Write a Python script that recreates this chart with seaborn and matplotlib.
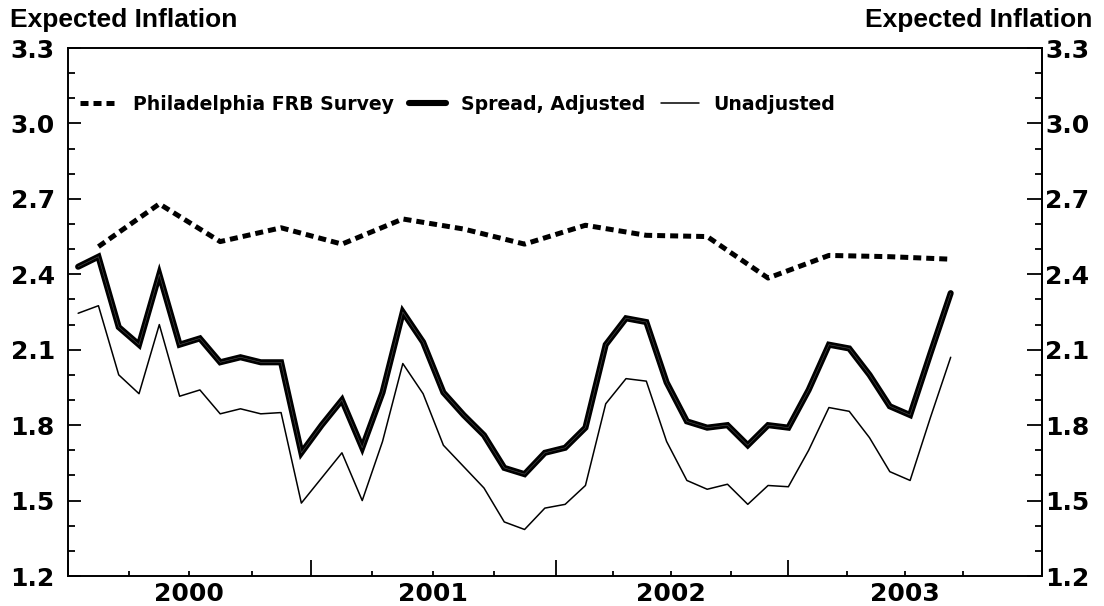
import numpy as np
import pandas as pd
import matplotlib
matplotlib.use("Agg")
import matplotlib.pyplot as plt
import seaborn as sns
from matplotlib.ticker import FixedLocator

# ---------------- data (monthly index: 0 = Jan 2000) ----------------
month_index = list(range(44))  # Jan 2000 .. Aug 2003

spread_adjusted = [2.43, 2.47, 2.19, 2.12, 2.40, 2.12, 2.145, 2.05, 2.07, 2.05,
                   2.05, 1.69, 1.80, 1.90, 1.71, 1.93, 2.25, 2.13, 1.93, 1.84,
                   1.76, 1.63, 1.605, 1.69, 1.71, 1.79, 2.12, 2.225, 2.21, 1.97,
                   1.815, 1.79, 1.80, 1.72, 1.80, 1.79, 1.94, 2.12, 2.105, 2.00,
                   1.875, 1.84, 2.085, 2.325]

unadjusted = [2.245, 2.275, 2.00, 1.925, 2.20, 1.915, 1.94, 1.845, 1.865, 1.845,
              1.85, 1.49, 1.59, 1.69, 1.50, 1.735, 2.045, 1.925, 1.72, 1.635,
              1.55, 1.415, 1.385, 1.47, 1.485, 1.56, 1.885, 1.985, 1.975, 1.735,
              1.58, 1.545, 1.565, 1.485, 1.56, 1.555, 1.70, 1.87, 1.855, 1.75,
              1.615, 1.58, 1.83, 2.07]

survey_index = [1, 4, 7, 10, 13, 16, 19, 22, 25, 28, 31, 34, 37, 40, 43]
survey = [2.51, 2.68, 2.53, 2.585, 2.52, 2.62, 2.58, 2.52, 2.595, 2.555,
          2.55, 2.385, 2.475, 2.47, 2.46]

y_major = [1.2, 1.5, 1.8, 2.1, 2.4, 2.7, 3.0, 3.3]
y_labels = ["1.2", "1.5", "1.8", "2.1", "2.4", "2.7", "3.0", "3.3"]
y_minor = [1.3, 1.4, 1.6, 1.7, 1.9, 2.0, 2.2, 2.3, 2.5, 2.6, 2.8, 2.9, 3.1, 3.2]

year_bounds = [-0.5, 11.5, 23.55, 35.0, 47.5]
quarter_ticks = [2.5, 5.45, 8.55, 14.5, 17.5, 20.5, 26.35, 29.2, 32.15,
                 37.9, 40.75, 43.6]
quarter_labels = ["", "2000", "", "", "2001", "", "", "2002", "",
                  "", "2003", ""]

# ---------------- style ----------------
sns.set_theme(style="ticks")
plt.rcParams["font.family"] = ["DejaVu Sans"]
plt.rcParams["font.weight"] = "bold"
plt.rcParams["axes.labelweight"] = "bold"
plt.rcParams["text.color"] = "black"
plt.rcParams["axes.labelcolor"] = "black"
plt.rcParams["xtick.color"] = "black"
plt.rcParams["ytick.color"] = "black"
plt.rcParams["axes.edgecolor"] = "black"

fig = plt.figure(figsize=(11.04, 6.06), dpi=100)
fig.patch.set_facecolor("white")
ax = fig.add_axes([68 / 1104, 30 / 606, 974 / 1104, 528 / 606])
ax.set_facecolor("white")

df_m = pd.DataFrame({"month": month_index,
                     "adj": spread_adjusted,
                     "unadj": unadjusted})
df_s = pd.DataFrame({"month": survey_index, "survey": survey})

sns.lineplot(data=df_m, x="month", y="unadj", ax=ax, color="black",
             lw=1.1, label="Unadjusted")
sns.lineplot(data=df_m, x="month", y="adj", ax=ax, color="black",
             lw=4.4, label="Spread, Adjusted", solid_joinstyle="miter")
sns.lineplot(data=df_m, x="month", y="adj", ax=ax, color="#8a8a8a",
             lw=0.4, alpha=0.6, legend=False)
sns.lineplot(data=df_s, x="month", y="survey", ax=ax, color="black",
             lw=3.6, linestyle=(0, (1.6, 1.0)), label="Philadelphia FRB Survey")

ax.set_xlabel("")
ax.set_ylabel("")
ax.set_xlim(-0.5, 47.5)
ax.set_ylim(1.2, 3.3)

for side in ["left", "right", "top", "bottom"]:
    ax.spines[side].set_visible(True)
    ax.spines[side].set_color("black")
    ax.spines[side].set_linewidth(1.4)

# y axis (left)
ax.yaxis.set_major_locator(FixedLocator(y_major))
ax.yaxis.set_minor_locator(FixedLocator(y_minor))
ax.set_yticklabels(y_labels)
ax.tick_params(axis="y", which="major", direction="in", length=9.6, width=1.3,
               labelsize=18, pad=9.5, colors="black", left=True, right=False)
ax.tick_params(axis="y", which="minor", direction="in", length=4.8, width=1.3,
               left=True, right=False)

# y axis (right)
sec = ax.secondary_yaxis("right")
sec.yaxis.set_major_locator(FixedLocator(y_major))
sec.yaxis.set_minor_locator(FixedLocator(y_minor))
sec.set_yticklabels(y_labels)
sec.tick_params(axis="y", which="major", direction="in", length=10.5, width=1.3,
                labelsize=18, pad=2.5, colors="black")
sec.tick_params(axis="y", which="minor", direction="in", length=4.8, width=1.3)
sec.spines["right"].set_linewidth(1.4)

# x axis
ax.xaxis.set_major_locator(FixedLocator(year_bounds))
ax.set_xticklabels([""] * len(year_bounds))
ax.set_xticks(quarter_ticks, labels=quarter_labels, minor=True)
ax.tick_params(axis="x", which="major", direction="in", length=11.5, width=1.3,
               bottom=True, top=False, colors="black")
ax.tick_params(axis="x", which="minor", direction="in", length=3.6, width=1.3,
               labelsize=18, pad=4.5, bottom=True, top=False, colors="black")

# legend
handles, labels = ax.get_legend_handles_labels()
order = ["Philadelphia FRB Survey", "Spread, Adjusted", "Unadjusted"]
hmap = dict(zip(labels, handles))
leg = ax.legend([hmap[k] for k in order], order, ncol=3, frameon=False,
                loc="center left", bbox_to_anchor=(0.012, 0.893),
                prop={"weight": "bold", "size": 13.6}, handlelength=2.0,
                handletextpad=0.8, columnspacing=0.8, borderpad=0,
                borderaxespad=0)
for t in leg.get_texts():
    t.set_color("black")

# axis titles
fig.text(10 / 1104, 1 - 27.5 / 606, "Expected Inflation", ha="left",
         va="baseline", fontsize=19, fontweight="bold", color="black",
         family=["Liberation Sans", "DejaVu Sans"])
fig.text(1092 / 1104, 1 - 27.5 / 606, "Expected Inflation", ha="right",
         va="baseline", fontsize=19, fontweight="bold", color="black",
         family=["Liberation Sans", "DejaVu Sans"])

fig.savefig("out.png", dpi=100, facecolor="white")
